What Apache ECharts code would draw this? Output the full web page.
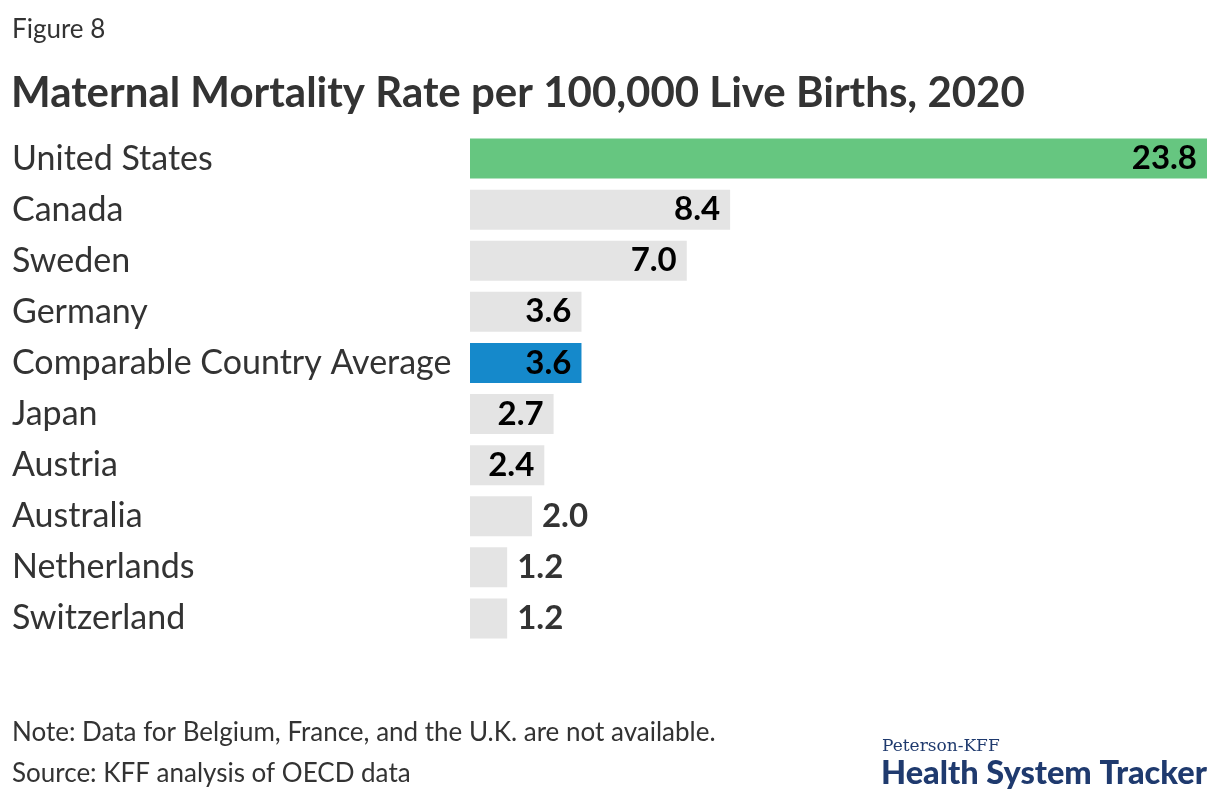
<!DOCTYPE html>
<html>
<head>
<meta charset="utf-8">
<script src="https://cdn.jsdelivr.net/npm/echarts@6/dist/echarts.min.js"></script>
<style>
html,body{margin:0;padding:0;background:#fff;}
#chart{width:1220px;height:800px;}
</style>
</head>
<body>
<div id="chart"></div>
<script>
const categories = ["United States","Canada","Sweden","Germany","Comparable Country Average","Japan","Austria","Australia","Netherlands","Switzerland"];
const values = [23.8, 8.4, 7.0, 3.6, 3.6, 2.7, 2.4, 2.0, 1.2, 1.2];
const titleText = "Maternal Mortality Rate per 100,000 Live Births, 2020";
const figureText = "Figure 8";
const noteText = "Note: Data for Belgium, France, and the U.K. are not available.";
const sourceText = "Source: KFF analysis of OECD data";

const FONT = "Lato";
const colorFor = name => name === "United States" ? "#66c680" : (name === "Comparable Country Average" ? "#1589cb" : "#e4e4e4");
const INSIDE_MIN = 2.4;

const chart = echarts.init(document.getElementById('chart'), null, {renderer:'canvas'});
chart.setOption({
  animation:false,
  backgroundColor:'#fff',
  textStyle:{fontFamily:FONT},
  title:[
    {text:figureText, left:12, top:17, padding:0, textStyle:{fontFamily:FONT, fontSize:26, fontWeight:'normal', color:'#333'}},
    {text:titleText, left:11, top:72, padding:0, textStyle:{fontFamily:FONT, fontSize:42, fontWeight:'bold', color:'#333'}},
    {text:noteText, left:12, top:720, padding:0, textStyle:{fontFamily:FONT, fontSize:26, fontWeight:'normal', color:'#333'}},
    {text:sourceText, left:12, top:761, padding:0, textStyle:{fontFamily:FONT, fontSize:26, fontWeight:'normal', color:'#333'}},
    {text:"Peterson-KFF", left:882, top:738, padding:0, textStyle:{fontFamily:"DejaVu Serif", fontSize:17, fontWeight:'normal', color:'#1f3a6e'}},
    {text:"Health System Tracker", left:881, top:757, padding:0, textStyle:{fontFamily:FONT, fontSize:32.5, fontWeight:900, color:'#1f3a6e'}}
  ],
  grid:{left:470, right:13, top:133, height:511, containLabel:false},
  xAxis:{type:'value', min:0, max:23.8, show:false},
  yAxis:{type:'category', data:categories, inverse:true,
    axisLine:{show:false}, axisTick:{show:false}, splitLine:{show:false},
    axisLabel:{align:'left', margin:458, fontFamily:FONT, fontSize:34, color:'#333'}},
  series:[{
    type:'bar', barWidth:40,
    data: values.map((v,i)=>({
      value:v,
      itemStyle:{color:colorFor(categories[i])},
      label: v >= INSIDE_MIN ? {position:'insideRight', distance:10, color:'#000'} : {position:'right', distance:10, color:'#333'}
    })),
    label:{show:true, fontFamily:FONT, fontSize:33, fontWeight:'bold', formatter:p=>p.value.toFixed(1)}
  }]
});
</script>
</body>
</html>
